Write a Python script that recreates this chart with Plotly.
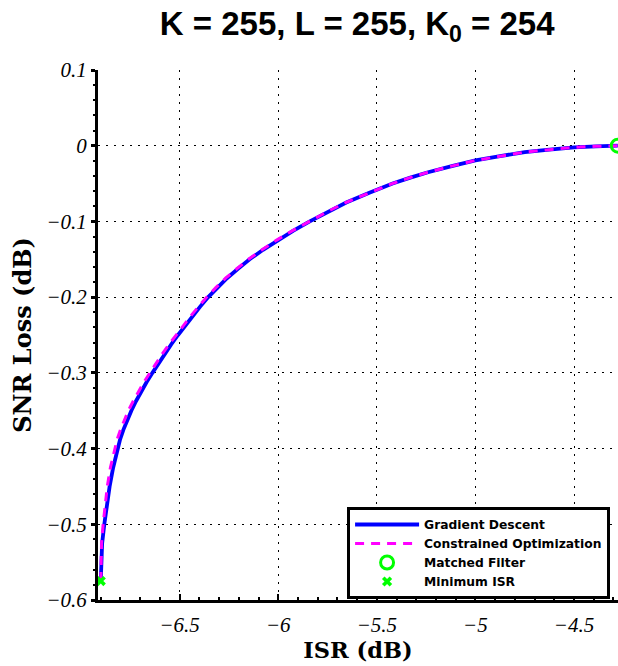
import plotly.graph_objects as go

# Data
gd_isr = [-6.900, -6.898, -6.893, -6.882, -6.870, -6.855, -6.837, -6.815, -6.8015, -6.785,
          -6.7665, -6.745, -6.7215, -6.696, -6.668, -6.638, -6.608, -6.576, -6.543, -6.508,
          -6.4725, -6.435, -6.396, -6.355, -6.309, -6.260, -6.204, -6.145, -6.077, -6.005,
          -5.925, -5.840, -5.750, -5.655, -5.541, -5.420, -5.330, -5.240, -5.120, -5.000,
          -4.875, -4.750, -4.625, -4.500, -4.389, -4.278]
gd_loss = [-0.575, -0.550, -0.525, -0.500, -0.475, -0.450, -0.425, -0.400, -0.3875, -0.375,
           -0.3625, -0.350, -0.3375, -0.325, -0.3125, -0.300, -0.2875, -0.275, -0.2625, -0.250,
           -0.2375, -0.225, -0.2125, -0.200, -0.1875, -0.175, -0.1625, -0.150, -0.1375, -0.125,
           -0.1125, -0.100, -0.0875, -0.075, -0.0625, -0.050, -0.0422, -0.035, -0.0270, -0.0195,
           -0.0138, -0.0085, -0.0052, -0.0022, -0.0008, 0.0]

co_isr = [-6.900, -6.899, -6.896, -6.888, -6.879, -6.867, -6.851, -6.830, -6.8165, -6.800,
          -6.7815, -6.760, -6.736, -6.710, -6.6815, -6.651, -6.6205, -6.588, -6.554, -6.518,
          -6.482, -6.444, -6.4045, -6.363, -6.3165, -6.267, -6.2105, -6.151, -6.0825, -6.010,
          -5.9295, -5.844, -5.7535, -5.658, -5.5435, -5.422, -5.3315, -5.241, -5.121, -5.001,
          -4.875, -4.750, -4.625, -4.500, -4.389, -4.278]
co_loss = [-0.575, -0.550, -0.525, -0.500, -0.475, -0.450, -0.425, -0.400, -0.3875, -0.375,
           -0.3625, -0.350, -0.3375, -0.325, -0.3125, -0.300, -0.2875, -0.275, -0.2625, -0.250,
           -0.2375, -0.225, -0.2125, -0.200, -0.1875, -0.175, -0.1625, -0.150, -0.1375, -0.125,
           -0.1125, -0.100, -0.0875, -0.075, -0.0625, -0.050, -0.0422, -0.035, -0.0270, -0.0195,
           -0.0138, -0.0085, -0.0052, -0.0022, -0.0008, 0.0]

mf_isr = [-4.278]
mf_loss = [0.0]
min_isr = [-6.900]
min_loss = [-0.575]

x_ticks = [-6.5, -6, -5.5, -5, -4.5]
x_ticktext = ["<i>\u22126.5</i>", "<i>\u22126</i>", "<i>\u22125.5</i>", "<i>\u22125</i>", "<i>\u22124.5</i>"]
y_ticks = [0.1, 0, -0.1, -0.2, -0.3, -0.4, -0.5, -0.6]
y_ticktext = ["<i>0.1</i>", "<i>0</i>", "<i>\u22120.1</i>", "<i>\u22120.2</i>", "<i>\u22120.3</i>",
              "<i>\u22120.4</i>", "<i>\u22120.5</i>", "<i>\u22120.6</i>"]

fig = go.Figure()
fig.add_trace(go.Scatter(x=gd_isr, y=gd_loss, mode="lines", name="Gradient Descent",
                         line=dict(color="#0000FF", width=3.8, shape="linear")))
fig.add_trace(go.Scatter(x=co_isr, y=co_loss, mode="lines", name="Constrained Optimization",
                         line=dict(color="#FF00FF", width=3, dash="9px,7px", shape="linear")))
fig.add_trace(go.Scatter(x=mf_isr, y=mf_loss, mode="markers", name="Matched Filter",
                         marker=dict(symbol="circle-open", size=13, color="#00FF00",
                                     line=dict(width=3, color="#00FF00")), cliponaxis=False))
fig.add_trace(go.Scatter(x=min_isr, y=min_loss, mode="markers", name="Minimum ISR",
                         marker=dict(symbol="x", size=9, color="#00FF00",
                                     line=dict(width=0)), cliponaxis=False))

tickfont = dict(family="Liberation Serif", size=21, color="black", style="italic")
fig.update_layout(
    width=618, height=666,
    margin=dict(l=98, r=0, t=70, b=66),
    paper_bgcolor="white", plot_bgcolor="white",
    title=dict(text="<b>K = 255, L = 255, K<sub>0</sub> = 254</b>",
               font=dict(family="Liberation Sans", size=33, color="black"),
               x=0.578, xanchor="center", y=0.965, yanchor="middle"),
    showlegend=True,
    legend=dict(x=0.479, y=0.1755, xanchor="left", yanchor="top",
                bgcolor="white", bordercolor="black", borderwidth=3,
                font=dict(family="DejaVu Sans", size=12.3, color="black", weight="bold"),
                itemwidth=64, tracegroupgap=0),
    xaxis=dict(range=[-6.914, -4.277], tickvals=x_ticks, ticktext=x_ticktext,
               tickfont=tickfont, ticks="inside", ticklen=6, tickwidth=2, tickcolor="black",
               ticklabelstandoff=4,
               minor=dict(dtick=0.1, tick0=-6.5, ticks="inside", ticklen=3, tickwidth=2,
                          tickcolor="black", showgrid=False),
               showline=True, linecolor="black", linewidth=3,
               showgrid=True, gridcolor="black", gridwidth=1, griddash="2px,6px",
               zeroline=False,
               title=dict(text="<b>ISR (dB)</b>", standoff=5,
                          font=dict(family="DejaVu Serif", size=22.5, color="black"))),
    yaxis=dict(range=[-0.6, 0.1], tickvals=y_ticks, ticktext=y_ticktext,
               tickfont=tickfont, ticks="outside", ticklen=4, tickwidth=3, tickcolor="black",
               minor=dict(dtick=0.02, tick0=0, ticks="outside", ticklen=2, tickwidth=2,
                          tickcolor="black", showgrid=False),
               showline=True, linecolor="black", linewidth=3,
               showgrid=True, gridcolor="black", gridwidth=1, griddash="2px,6px",
               zeroline=False,
               title=dict(text="<b>SNR Loss (dB)</b>", standoff=8,
                          font=dict(family="DejaVu Serif", size=24, color="black"))),
)

fig.write_html("out.html")
